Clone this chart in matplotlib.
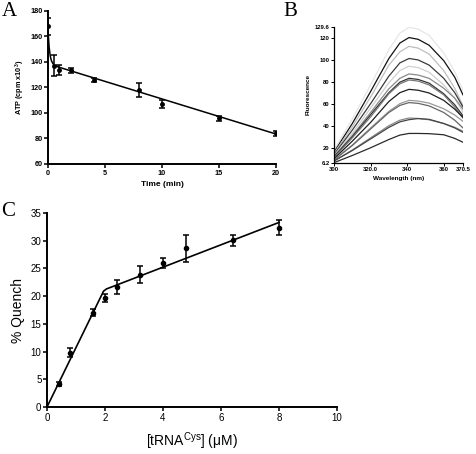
import matplotlib
matplotlib.use('Agg')
import matplotlib.pyplot as plt

plt.rcParams['font.family'] = ['Liberation Sans', 'DejaVu Sans']
plt.rcParams['mathtext.default'] = 'regular'

# Panel A: ATP vs time
time_min = [0, 0.5, 1, 2, 4, 8, 10, 15, 20]
atp = [168, 137, 133.5, 133.4, 126, 117.9, 107.3, 95.8, 84]
atp_err = [6.5, 8.2, 4, 2, 1.8, 5.7, 3.1, 1.8, 2]
fit_time = [0, 0.1, 0.2, 0.3, 0.45, 0.7, 1, 20]
fit_atp = [165, 151.6, 144.6, 141, 138.5, 136.8, 135.8, 83.5]

# Panel B: fluorescence spectra
wavelength = [300, 310, 320, 330, 336, 341, 346, 352, 360, 366, 370.5]
spectra = [
    [18, 46, 77, 109, 124, 129.3, 127.6, 122, 106, 89, 72],
    [16, 42, 71, 101, 115, 120, 118.4, 113, 99, 84, 68],
    [15, 39, 66, 95, 107, 112, 110.4, 105, 90, 74, 58],
    [14, 36, 60, 85, 97, 101, 99.7, 95, 83, 70, 57],
    [13, 33, 56, 79, 90, 94, 92.7, 88.5, 77, 65, 52],
    [12, 31, 52, 73.5, 83, 87, 86, 83, 74, 65, 55],
    [12, 30, 50, 70, 79.5, 83, 82, 78.6, 69, 59, 49],
    [11, 29, 48, 69, 78, 81.5, 80.5, 77, 68, 57, 47],
    [10, 26, 43, 62, 70, 73, 72.2, 69.7, 63, 55, 47.5],
    [9, 22.5, 38, 53, 60, 63, 62.4, 60.5, 55.4, 49.7, 44],
    [9, 22, 37, 52, 58.4, 61, 60.3, 58, 52, 45, 38],
    [8, 18, 29, 40, 45, 47, 46.6, 45.4, 42, 38.6, 35],
    [8, 17.5, 28, 38.5, 43.5, 45.5, 46.5, 45.8, 42, 38, 34],
    [6.5, 13, 20, 27.5, 31.5, 33, 33, 32.8, 31.8, 28.5, 25],
]
spectra_colors = ['#e6e6e6', '#111111', '#bdbdbd', '#3a3a3a', '#d0d0d0', '#8a8a8a', '#333333',
                  '#777777', '#1e1e1e', '#9a9a9a', '#666666', '#888888', '#444444', '#2a2a2a']
b_yticks = [6.2, 20, 40, 60, 80, 100, 120, 129.6]
b_xticks = [300, 320, 340, 360, 370.5]
b_xlabels = ['300', '320.0', '340', '360', '370.5']

# Panel C: % quench vs tRNA
trna = [0.4, 0.8, 1.6, 2.0, 2.4, 3.2, 4.0, 4.8, 6.4, 8.0]
quench = [4.15, 9.8, 17.0, 19.6, 21.6, 23.9, 26.0, 28.6, 30.1, 32.35]
quench_err = [0.42, 0.8, 0.6, 0.7, 1.26, 1.56, 0.84, 2.35, 1.0, 1.4]
fit_trna = [0, 1.95, 2.05, 2.2, 8.0]
fit_quench = [0, 20.9, 21.3, 21.6, 33.3]

fig = plt.figure(figsize=(4.77, 4.54), dpi=100)


def style_axes(ax, lw=1.4, tick_len=3, tick_size=5, bold=True):
    for side in ['top', 'right']:
        ax.spines[side].set_visible(False)
    for side in ['left', 'bottom']:
        ax.spines[side].set_linewidth(lw)
    ax.tick_params(direction='out', length=tick_len, width=lw * 0.8, labelsize=tick_size, pad=1)
    if bold:
        for lab in ax.get_xticklabels() + ax.get_yticklabels():
            lab.set_fontweight('bold')


# ---- A ----
axA = fig.add_axes([0.1006, 0.6388, 0.478, 0.337])
axA.plot(fit_time, fit_atp, color='black', lw=1.1)
axA.errorbar(time_min, atp, yerr=atp_err, fmt='o', color='black', ms=2.5,
             capsize=2, elinewidth=1.1, capthick=1.1)
axA.set_xlim(0, 20)
axA.set_ylim(60, 180)
axA.set_xticks([0, 5, 10, 15, 20])
axA.set_yticks(range(60, 181, 20))
style_axes(axA, tick_size=5.2)
axA.set_xlabel('Time (min)', fontsize=6, fontweight='bold', labelpad=3)
axA.set_ylabel('ATP (cpm x10$^3$)', fontsize=5.2, fontweight='bold', labelpad=2)

# ---- B ----
axB = fig.add_axes([0.7002, 0.641, 0.2704, 0.2996])
for vals, col in zip(spectra, spectra_colors):
    axB.plot(wavelength, vals, color=col, lw=0.9)
axB.set_xlim(300, 370.5)
axB.set_ylim(6.2, 129.6)
axB.set_xticks(b_xticks)
axB.set_xticklabels(b_xlabels)
axB.set_yticks(b_yticks)
axB.set_yticklabels(['6.2', '20', '40', '60', '80', '100', '120', '129.6'])
style_axes(axB, lw=0.9, tick_len=2, tick_size=4.2)
axB.set_xlabel('Wavelength (nm)', fontsize=4.6, fontweight='bold', labelpad=3)
axB.set_ylabel('Fluorescence', fontsize=4.6, fontweight='bold', labelpad=3)

# ---- C ----
axC = fig.add_axes([0.0985, 0.1035, 0.608, 0.4273])
axC.plot(fit_trna, fit_quench, color='black', lw=1.2)
axC.errorbar(trna, quench, yerr=quench_err, fmt='o', color='black', ms=3,
             capsize=2.5, elinewidth=1.1, capthick=1.1)
axC.set_xlim(0, 10)
axC.set_ylim(0, 35)
axC.set_xticks(range(0, 11, 2))
axC.set_yticks(range(0, 36, 5))
style_axes(axC, tick_size=7, bold=False)
axC.set_xlabel('[tRNA$^{Cys}$] ($\\mu$M)', fontsize=10, labelpad=6)
axC.set_ylabel('% Quench', fontsize=10, labelpad=4)

# panel letters
for txt, x, y in [('A', 0.003, 0.995), ('B', 0.595, 0.995), ('C', 0.003, 0.555)]:
    fig.text(x, y, txt, fontsize=15, family='Liberation Serif', va='top', ha='left')

fig.savefig('out.png', dpi=100)
